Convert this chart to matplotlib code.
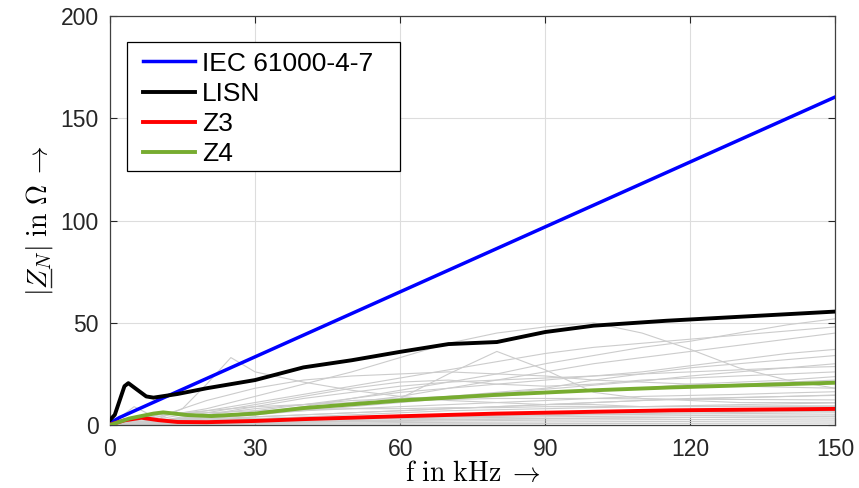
import matplotlib
matplotlib.use("Agg")
import matplotlib.pyplot as plt
from matplotlib.mathtext import MathTextParser
from matplotlib.font_manager import FontProperties
from matplotlib.patches import Rectangle
from matplotlib.lines import Line2D

plt.rcParams['font.family'] = ['Liberation Sans', 'DejaVu Sans']
plt.rcParams['mathtext.fontset'] = 'cm'

# ---------------- data ----------------
iec_f = [0, 2, 150]
iec_z = [1.0, 3.7, 160.5]

lisn_f = [0, 1, 2, 3, 3.8, 5.5, 7.5, 9, 14, 20, 30, 40, 50, 60, 70, 80, 90, 100, 115, 150]
lisn_z = [2.5, 5, 12, 19, 20.5, 17.5, 14, 13.4, 15.2, 18, 22, 28.2, 31.7, 35.8, 39.6, 40.6, 45.5, 48.6, 51, 55.5]

z3_f = [0, 3, 6.5, 10, 14, 20, 30, 40, 60, 80, 116, 150]
z3_z = [0.2, 2.3, 3.6, 2.4, 1.5, 1.4, 2, 2.9, 4.3, 5.6, 7.2, 7.9]

z4_f = [0, 4, 9, 11, 16, 21, 30, 40, 60, 80, 100, 116, 150]
z4_z = [0, 3.2, 5.6, 6.2, 4.9, 4.4, 5.6, 8.3, 12, 14.8, 17, 18.4, 20.7]

gray_f = [0, 5, 10, 15, 20, 25, 30, 40, 50, 60, 70, 80, 90, 100, 110, 120, 130, 140, 150]
gray_z = [
    [0, 2, 4, 6, 8, 11, 14, 20, 26, 33, 40, 45, 48, 50, 45, 37, 28, 22, 18],
    [0, 1, 2, 3, 4, 5, 6, 9, 13, 17, 21, 25, 30, 34, 38, 41, 45, 49, 52],
    [0, 1.5, 3, 5, 7, 9, 11, 15, 19, 23, 27, 31, 35, 38, 40, 42, 44, 46, 48],
    [0, 1, 2, 3, 4, 5, 6, 8, 11, 14, 18, 22, 26, 30, 33, 36, 39, 42, 45],
    [0, 1, 2, 3, 4, 5, 6, 8, 10, 13, 25, 36, 27, 16, 13, 12, 11, 11, 11],
    [0, 1, 3, 8, 20, 33, 26, 21, 17, 14, 12, 11, 10, 10, 9, 9, 9, 9, 9],
    [0, 1, 2, 3, 4, 5, 7, 10, 13, 16, 18, 20, 22, 24, 26, 29, 32, 35, 37],
    [0, 1, 2, 3, 4, 5, 6, 8, 10, 12, 14, 16, 18, 22, 25, 28, 30, 32, 34],
    [0, 0.8, 1.5, 2.5, 3.5, 4.5, 5.5, 7.5, 9.5, 11.5, 13.5, 15.5, 17.5, 19.5, 21.5, 24, 26, 28, 30],
    [0, 1, 2, 3, 5, 7, 9, 13, 16, 19, 21, 22, 23, 24, 25, 26, 27, 28, 28.6],
    [0, 1, 2, 4, 6, 8, 10, 14, 18, 21, 22, 20, 19, 20, 22, 23, 24, 25, 26],
    [0, 0.5, 1, 2, 3, 4, 5, 7, 9, 11, 13, 14, 16, 17, 18, 20, 21, 22, 23.7],
    [0, 2, 4, 8, 12, 15, 18, 22, 24, 25, 26, 25, 24, 22, 21, 20, 19, 18.5, 18],
    [0, 1, 2, 3, 4, 5, 6, 7, 8, 9, 10, 11, 12, 13, 14, 14.5, 15, 15.7, 16.3],
    [0, 0.5, 1, 1.5, 2, 3, 4, 5, 6, 7, 8, 9, 10, 11, 12, 12.7, 13.4, 14, 14.7],
    [0, 3, 5, 6, 7, 8, 9, 10, 11, 12, 12.5, 13, 13, 13, 12.8, 12.6, 12.5, 12.4, 12.3],
    [0, 0.5, 1, 1.5, 2, 2.5, 3, 4, 5, 6, 7, 7.5, 8, 8.5, 9, 9.5, 10, 10.4, 10.8],
    [0, 2, 5, 6, 6, 6.5, 7, 7.5, 8, 8, 8.5, 8.5, 9, 9, 9, 9.2, 9.3, 9.4, 9.4],
    [0, 0.5, 1, 1.5, 2, 2.5, 3, 3.5, 4, 4.5, 5, 5.5, 6, 6.5, 7, 7.5, 8, 8.2, 8.5],
    [0, 1, 1.5, 2, 2.5, 3, 3.2, 3.5, 4, 4.5, 5, 5.5, 5.8, 6, 6.3, 6.5, 6.7, 6.9, 7],
    [0, 0.3, 0.6, 1, 1.3, 1.6, 2, 2.5, 3, 3.5, 4, 4.3, 4.6, 5, 5.2, 5.4, 5.6, 5.8, 6],
    [0, 0.5, 1, 1.2, 1.5, 1.8, 2, 2.4, 2.8, 3.1, 3.4, 3.7, 4, 4.2, 4.4, 4.6, 4.8, 4.9, 5],
    [0, 0.3, 0.5, 0.8, 1, 1.2, 1.4, 1.8, 2.2, 2.5, 2.8, 3, 3.2, 3.4, 3.6, 3.7, 3.8, 3.9, 4],
    [0, 0.2, 0.4, 0.6, 0.8, 1, 1.1, 1.3, 1.6, 1.8, 2, 2.2, 2.4, 2.5, 2.6, 2.7, 2.8, 2.9, 3],
    [0, 0.2, 0.3, 0.4, 0.5, 0.6, 0.7, 0.9, 1, 1.2, 1.3, 1.4, 1.5, 1.6, 1.7, 1.8, 1.9, 1.95, 2],
    [0, 0.1, 0.2, 0.25, 0.3, 0.35, 0.4, 0.45, 0.5, 0.55, 0.6, 0.65, 0.7, 0.75, 0.8, 0.85, 0.9, 0.95, 1],
    [0, 9, 3, 2.5, 3, 3.5, 4, 5, 6, 7, 8, 9, 10, 11, 12, 13, 13.5, 14, 14.5],
    [0, 1, 2, 3.5, 5, 6.5, 8, 10, 12, 13, 14, 15, 16, 17, 18, 19, 20, 21, 22],
    [0, 0.4, 0.8, 1.2, 1.6, 2, 2.3, 2.8, 3.3, 3.8, 4.2, 4.6, 5, 5.3, 5.6, 5.9, 6.2, 6.5, 6.8],
    [0, 0.6, 1.2, 1.7, 2.2, 2.6, 3, 3.6, 4.2, 4.7, 5.2, 5.6, 6, 6.4, 6.7, 7, 7.3, 7.6, 7.9],
    [0, 0.2, 0.5, 0.7, 0.9, 1.1, 1.3, 1.6, 1.9, 2.2, 2.5, 2.8, 3.1, 3.3, 3.5, 3.7, 3.9, 4.1, 4.3],
]

x_ticks = [0, 30, 60, 90, 120, 150]
y_ticks = [0, 50, 100, 150, 200]
legend_labels = ['IEC 61000-4-7', 'LISN', 'Z3', 'Z4']

# ---------------- figure ----------------
W, H, DPI = 8.59, 4.88, 100
fig = plt.figure(figsize=(W, H), dpi=DPI)
ax = fig.add_axes([0.128, 0.129, 0.8446, 0.838])

for zs in gray_z:
    ax.plot(gray_f, zs, color='#cccccc', lw=0.8, zorder=1)

h1, = ax.plot(iec_f, iec_z, color='#0000ff', lw=2.5, zorder=3)
h2, = ax.plot(lisn_f, lisn_z, color='black', lw=2.8, zorder=3)
h3, = ax.plot(z3_f, z3_z, color='#ff0000', lw=2.8, zorder=3)
h4, = ax.plot(z4_f, z4_z, color='#77ac30', lw=2.8, zorder=4)

ax.set_xlim(0, 150)
ax.set_ylim(0, 200)
ax.set_xticks(x_ticks)
ax.set_yticks(y_ticks)
ax.grid(True, color='#dddddd', lw=0.8, zorder=0)
ax.set_axisbelow(True)
ax.tick_params(direction='in', top=True, right=True, length=5, width=0.8,
               labelsize=16.5, colors='#262626')
ax.tick_params(axis='x', pad=9)
ax.tick_params(axis='y', pad=8)
for s in ax.spines.values():
    s.set_color('#404040')
    s.set_linewidth(0.9)

LBL = 20
xl = r'$\mathrm{f\ in\ kHz}\;\rightarrow$'
yl = r'$|Z_N|\ \mathrm{in}\ \Omega\;\rightarrow$'
ax.set_xlabel(xl, fontsize=LBL, labelpad=0)
ax.set_ylabel(yl, fontsize=LBL, labelpad=4)

# legend (frame drawn as separate rectangle)
frame = Rectangle((0.0234, 0.621), 0.3763, 0.3154, transform=ax.transAxes,
                  facecolor='white', edgecolor='black', lw=0.9, zorder=5)
ax.add_patch(frame)
leg = ax.legend([h1, h2, h3, h4], legend_labels, loc='upper left',
                bbox_to_anchor=(0.045, 0.913), borderaxespad=0, fontsize=19,
                frameon=False, handlelength=2.0, handletextpad=0.25,
                labelspacing=0.23, borderpad=0)
leg.set_zorder(6)

# underline under Z in the y label
fig.canvas.draw()
renderer = fig.canvas.get_renderer()
lab = ax.yaxis.label
bb = lab.get_window_extent(renderer)
parser = MathTextParser('path')
fp = FontProperties(size=LBL)
s = DPI / 72.0
w_bar = parser.parse(r'$|$', dpi=72, prop=fp)[0] * s
w_barz = parser.parse(r'$|Z$', dpi=72, prop=fp)[0] * s
full = parser.parse(yl, dpi=72, prop=fp)
depth = full[2] * s
em = LBL * s
xline = bb.x1 - depth + 0.12 * em
y_a = bb.y0 + w_bar + 0.02 * em
y_b = bb.y0 + w_barz - 0.04 * em
fw, fh = W * DPI, H * DPI
fig.add_artist(Line2D([xline / fw, xline / fw], [y_a / fh, y_b / fh],
                      transform=fig.transFigure, color='#262626', lw=1.0))

fig.savefig('out.png', dpi=DPI)
